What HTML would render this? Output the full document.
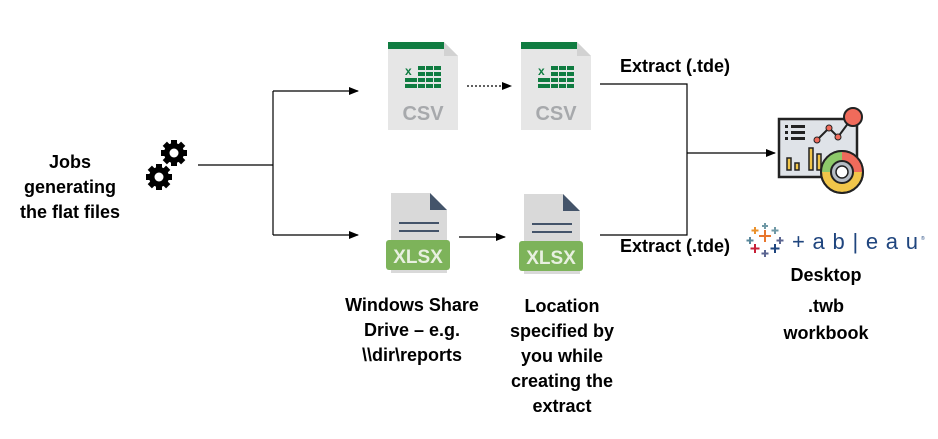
<!DOCTYPE html>
<html><head><meta charset="utf-8"><style>
body{margin:0;background:#fff;width:938px;height:439px;overflow:hidden;position:relative;font-family:"Liberation Sans",Arial,sans-serif}
.t{position:absolute;font-weight:bold;font-size:18px;color:#000;text-align:center;line-height:25px}
</style></head><body>
<svg width="938" height="439" style="position:absolute;left:0;top:0">
<defs><marker id="a" markerWidth="10" markerHeight="8" refX="9" refY="4" orient="auto" markerUnits="userSpaceOnUse"><path d="M0,0 L10,4 L0,8z" fill="#000"/></marker></defs>
<g stroke="#000" stroke-width="1.2" fill="none">
<path d="M198,165 H273 M273,91 V235"/>
<path d="M273,91 H358" marker-end="url(#a)"/>
<path d="M273,235 H358" marker-end="url(#a)"/>
<path d="M467,86 H511" stroke-dasharray="2,2" marker-end="url(#a)"/>
<path d="M459,237 H505" marker-end="url(#a)"/>
<path d="M600,84 H687 V235 H600"/>
<path d="M687,153 H775" marker-end="url(#a)"/>
</g>
<g fill="#000">
<g transform="translate(174,153)"><circle r="10"/><g><rect x="-3" y="-13" width="6" height="26"/><rect x="-3" y="-13" width="6" height="26" transform="rotate(45)"/><rect x="-3" y="-13" width="6" height="26" transform="rotate(90)"/><rect x="-3" y="-13" width="6" height="26" transform="rotate(135)"/></g><circle r="4.5" fill="#fff"/></g>
<g transform="translate(159,177)"><circle r="10"/><g><rect x="-3" y="-13" width="6" height="26"/><rect x="-3" y="-13" width="6" height="26" transform="rotate(45)"/><rect x="-3" y="-13" width="6" height="26" transform="rotate(90)"/><rect x="-3" y="-13" width="6" height="26" transform="rotate(135)"/></g><circle r="4.5" fill="#fff"/></g>
</g>
<g id="csv">
<path d="M388,42 H444 L458,56 V130 H388Z" fill="#e6e6e6"/>
<path d="M444,42 L458,56 H444Z" fill="#d2d2d2"/>
<rect x="388" y="42" width="56" height="7" fill="#107c41"/>
<text x="405" y="75" font-size="12" font-weight="bold" fill="#107c41" font-family="Liberation Sans">x</text>
<g fill="#107c41"><rect x="418" y="66" width="7" height="4"/><rect x="426" y="66" width="7" height="4"/><rect x="434" y="66" width="7" height="4"/>
<rect x="418" y="72" width="7" height="4"/><rect x="426" y="72" width="7" height="4"/><rect x="434" y="72" width="7" height="4"/>
<rect x="405" y="78" width="12" height="4"/><rect x="418" y="78" width="7" height="4"/><rect x="426" y="78" width="7" height="4"/><rect x="434" y="78" width="7" height="4"/>
<rect x="405" y="84" width="12" height="4"/><rect x="418" y="84" width="7" height="4"/><rect x="426" y="84" width="7" height="4"/><rect x="434" y="84" width="7" height="4"/></g>
<text x="423" y="120" font-size="20" font-weight="bold" fill="#a7a9ac" text-anchor="middle" font-family="Liberation Sans">CSV</text>
</g>
<use href="#csv" transform="translate(133,0)"/>
<g id="xl">
<path d="M391,193 H430 L447,210 V273 H391Z" fill="#d9d9d9"/>
<path d="M430,193 L447,210 H430Z" fill="#44546a"/>
<rect x="399" y="222" width="40" height="2" fill="#44546a"/><rect x="399" y="230" width="40" height="2" fill="#44546a"/>
<rect x="386" y="240" width="64" height="30" rx="3" fill="#7db35a"/>
<text x="418" y="263" font-size="19" font-weight="bold" fill="#e8f0e0" text-anchor="middle" font-family="Liberation Sans">XLSX</text>
</g>
<use href="#xl" transform="translate(133,1)"/>
<rect x="779" y="119" width="78" height="58" fill="#dfe3e8" stroke="#222" stroke-width="2.5"/>
<g fill="#222"><rect x="785" y="125" width="3" height="3"/><rect x="791" y="125" width="14" height="3"/><rect x="785" y="131" width="3" height="3"/><rect x="791" y="131" width="14" height="3"/><rect x="785" y="137" width="3" height="3"/><rect x="791" y="137" width="14" height="3"/></g>
<polyline points="817,140 829,128 838,137 852,118" stroke="#222" stroke-width="2" fill="none"/>
<circle cx="817" cy="140" r="3" fill="#f06b5b" stroke="#222"/><circle cx="829" cy="128" r="3" fill="#f06b5b" stroke="#222"/><circle cx="838" cy="137" r="3" fill="#f06b5b" stroke="#222"/>
<circle cx="853" cy="117" r="9" fill="#f06b5b" stroke="#222" stroke-width="2"/>
<g fill="#f1c64a" stroke="#222" stroke-width="1.5"><rect x="787" y="158" width="4" height="12"/><rect x="795" y="163" width="4" height="7"/><rect x="809" y="148" width="4" height="22"/><rect x="817" y="154" width="4" height="16"/></g>
<circle cx="842" cy="172" r="21" fill="#f1c64a" stroke="#222" stroke-width="2"/>
<path d="M842,172 L842,151 A21,21 0 0 1 863,172Z" fill="#f06b5b"/>
<path d="M842,172 L821,172 A21,21 0 0 1 842,151Z" fill="#8dc96a"/>
<circle cx="842" cy="172" r="21" fill="none" stroke="#222" stroke-width="2"/>
<circle cx="842" cy="172" r="11" fill="#b5bcc4" stroke="#222" stroke-width="2"/>
<circle cx="842" cy="172" r="6" fill="#fff" stroke="#222" stroke-width="1.5"/>
<g stroke-width="2">
<path d="M765,230 v12 M759,236 h12" stroke="#e8762d"/>
<path d="M755,227 v7 M751.5,230.5 h7" stroke="#eb912b"/>
<path d="M775,227 v7 M771.5,230.5 h7" stroke="#7099a6"/>
<path d="M750,237 v7 M746.5,240.5 h7" stroke="#59879b"/>
<path d="M780,237 v7 M776.5,240.5 h7" stroke="#5b6591"/>
<path d="M755,244 v9 M750.5,248.5 h9" stroke="#c72037"/>
<path d="M775,244 v9 M770.5,248.5 h9" stroke="#1f457e"/>
<path d="M765,250 v7 M761.5,253.5 h7" stroke="#5b6591"/>
<path d="M765,223 v6 M762,226 h6" stroke="#7099a6"/>
</g>
<text x="792" y="249" font-size="22" fill="#1f457e" textLength="126" lengthAdjust="spacing" font-family="Liberation Sans">+ a b | e a u</text>
<text x="921" y="240" font-size="5" fill="#1f457e">®</text>
</svg>
<div class="t" style="left:10px;top:150px;width:120px">Jobs<br>generating<br>the flat files</div>
<div class="t" style="left:620px;top:54px">Extract (.tde)</div>
<div class="t" style="left:620px;top:234px">Extract (.tde)</div>
<div class="t" style="left:776px;top:263px;width:100px">Desktop</div>
<div class="t" style="left:776px;top:294px;width:100px">.twb</div>
<div class="t" style="left:776px;top:321px;width:100px">workbook</div>
<div class="t" style="left:332px;top:293px;width:160px">Windows Share<br>Drive – e.g.<br>\\dir\reports</div>
<div class="t" style="left:487px;top:294px;width:150px">Location<br>specified by<br>you while<br>creating the<br>extract</div>
</body></html>
